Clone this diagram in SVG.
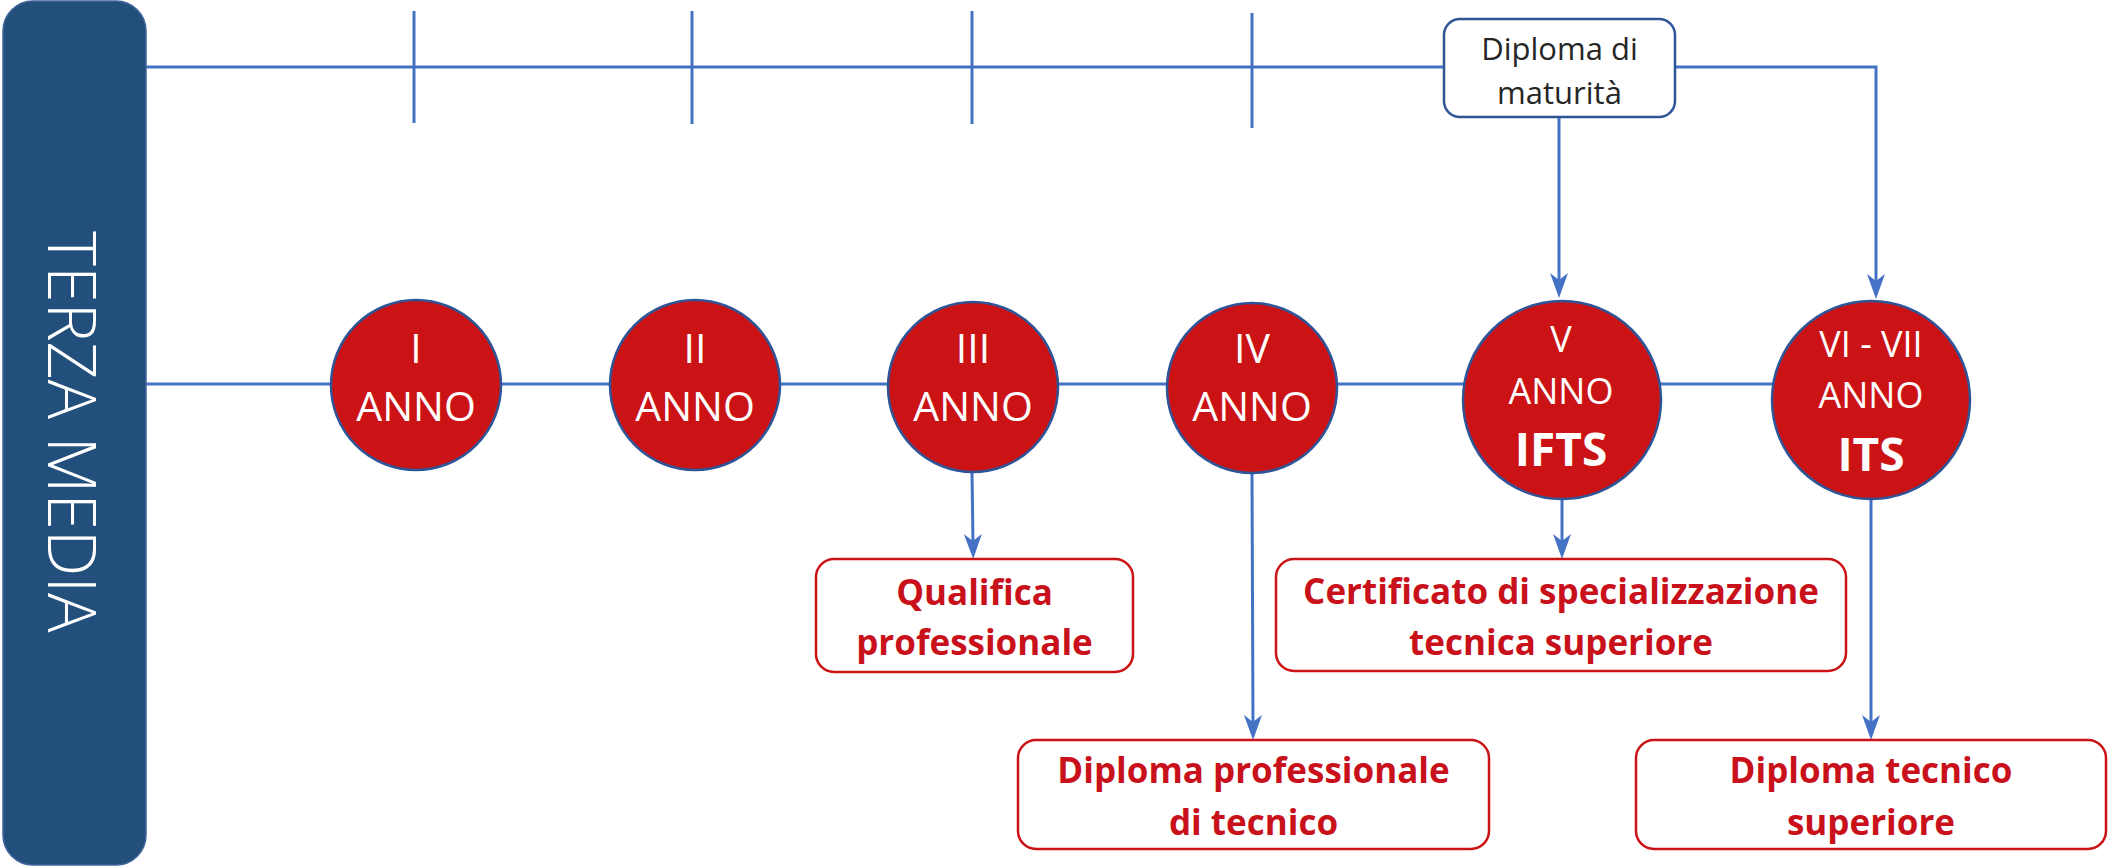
<svg xmlns="http://www.w3.org/2000/svg" width="2108" height="866" viewBox="0 0 2108 866">
<style>
.conn{stroke:#4472C4;stroke-width:3;fill:none}
.arrow{marker-end:url(#ah)}
.circ{fill:#CB1316;stroke:#2F5597;stroke-width:2.5}
.ct{font-family:"Open Sans","Liberation Sans",sans-serif;font-weight:400;fill:#fff;text-anchor:middle}
.ctb{font-family:"Open Sans","Liberation Sans",sans-serif;font-weight:700;fill:#fff;text-anchor:middle}
.rbox{fill:#fff;stroke:#CB1316;stroke-width:2.5}
.rt{font-family:"Open Sans","Liberation Sans",sans-serif;font-weight:700;font-size:35px;fill:#C8111A;text-anchor:middle}
</style>
<defs>
<marker id="ah" viewBox="0 0 25 18" refX="10" refY="9" markerWidth="25" markerHeight="18" markerUnits="userSpaceOnUse" orient="auto">
<path d="M0,0 L25,9 L0,18 L7,9 Z" fill="#4472C4"/>
</marker>
</defs>
<rect width="2108" height="866" fill="#fff"/>
<g id="connectors">
<line class="conn" x1="144" y1="67" x2="1444" y2="67"/>
<polyline class="conn arrow" points="1675,67 1876,67 1876,284"/>
<line class="conn arrow" x1="1559" y1="117" x2="1559" y2="283"/>
<line class="conn" x1="414" y1="11" x2="414" y2="123"/>
<line class="conn" x1="692" y1="11" x2="692" y2="124"/>
<line class="conn" x1="972" y1="11" x2="972" y2="124"/>
<line class="conn" x1="1252" y1="13" x2="1252" y2="128"/>
<line class="conn" x1="146" y1="384" x2="1780" y2="384"/>
<line class="conn arrow" x1="972" y1="472" x2="973" y2="544"/>
<line class="conn arrow" x1="1252" y1="473" x2="1253" y2="725"/>
<line class="conn arrow" x1="1562" y1="499" x2="1562" y2="544"/>
<line class="conn arrow" x1="1871" y1="500" x2="1871" y2="725"/>
</g>
<g id="terza-media">
<rect x="3" y="1" width="143" height="864" rx="30" fill="#224F7C" stroke="#41659C" stroke-width="1.5"/>
<text transform="translate(48,432) rotate(90)" x="0" y="0" font-family="'Open Sans','Liberation Sans',sans-serif" font-weight="300" font-size="66" fill="#fff" text-anchor="middle">TERZA MEDIA</text>
</g>
<g id="diploma-maturita">
<rect x="1444" y="19" width="231" height="98" rx="16" fill="#fff" stroke="#2F5597" stroke-width="2.5"/>
<text x="1559.5" y="60" font-family="'Open Sans','Liberation Sans',sans-serif" font-size="31" fill="#262626" text-anchor="middle">Diploma di</text>
<text x="1559.5" y="104" font-family="'Open Sans','Liberation Sans',sans-serif" font-size="31" fill="#262626" text-anchor="middle">maturità</text>
</g>
<g id="anno-1">
<circle class="circ" cx="416" cy="385" r="85"/>
<text class="ct" x="416" y="363" font-size="41">I</text>
<text class="ct" x="416" y="421" font-size="41">ANNO</text>
</g>
<g id="anno-2">
<circle class="circ" cx="695" cy="385" r="85"/>
<text class="ct" x="695" y="363" font-size="41">II</text>
<text class="ct" x="695" y="421" font-size="41">ANNO</text>
</g>
<g id="anno-3">
<circle class="circ" cx="973" cy="387" r="85"/>
<text class="ct" x="973" y="363" font-size="41">III</text>
<text class="ct" x="973" y="421" font-size="41">ANNO</text>
</g>
<g id="anno-4">
<circle class="circ" cx="1252" cy="388" r="85"/>
<text class="ct" x="1252" y="363" font-size="41">IV</text>
<text class="ct" x="1252" y="421" font-size="41">ANNO</text>
</g>
<g id="anno-5">
<circle class="circ" cx="1562" cy="400" r="99"/>
<text class="ct" x="1561" y="352" font-size="36">V</text>
<text class="ct" x="1561" y="404" font-size="36">ANNO</text>
<text class="ctb" x="1561" y="466" font-size="46">IFTS</text>
</g>
<g id="anno-6-7">
<circle class="circ" cx="1871" cy="400" r="99"/>
<text class="ct" x="1871" y="357" font-size="36">VI - VII</text>
<text class="ct" x="1871" y="408" font-size="36">ANNO</text>
<text class="ctb" x="1871" y="471" font-size="46">ITS</text>
</g>
<g id="qualifica">
<rect class="rbox" x="816" y="559" width="317" height="113" rx="18"/>
<text class="rt" x="974.5" y="605">Qualifica</text>
<text class="rt" x="974.5" y="655">professionale</text>
</g>
<g id="diploma-professionale">
<rect class="rbox" x="1018" y="740" width="471" height="109" rx="18"/>
<text class="rt" x="1253.5" y="783">Diploma professionale</text>
<text class="rt" x="1253.5" y="835">di tecnico</text>
</g>
<g id="certificato">
<rect class="rbox" x="1276" y="559" width="570" height="112" rx="18"/>
<text class="rt" x="1561" y="604">Certificato di specializzazione</text>
<text class="rt" x="1561" y="655">tecnica superiore</text>
</g>
<g id="diploma-tecnico">
<rect class="rbox" x="1636" y="740" width="470" height="109" rx="18"/>
<text class="rt" x="1871" y="783">Diploma tecnico</text>
<text class="rt" x="1871" y="835">superiore</text>
</g>
</svg>
